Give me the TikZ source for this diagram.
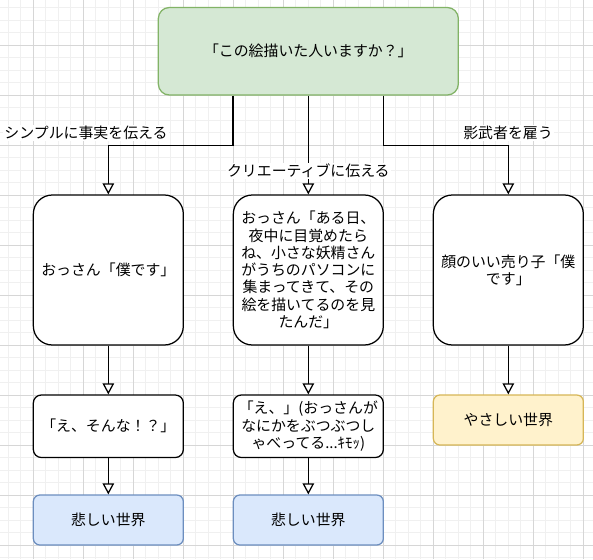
\documentclass[tikz,border=0pt]{standalone}
\usepackage{fontspec}
\setmainfont{Noto Sans CJK JP}
\usetikzlibrary{arrows.meta,calc}

\definecolor{gridminor}{RGB}{240,240,240}
\definecolor{gridmajor}{RGB}{214,214,214}
\definecolor{greenfill}{HTML}{D5E8D4}
\definecolor{greenline}{HTML}{82B366}
\definecolor{bluefill}{HTML}{DAE8FC}
\definecolor{blueline}{HTML}{6C8EBF}
\definecolor{yellowfill}{HTML}{FFF2CC}
\definecolor{yellowline}{HTML}{D6B656}

\newcommand{\boxfont}{\fontsize{14.9}{17.3}\selectfont}

\tikzset{every picture/.style={line width=1.25pt}}
\tikzset{
  box/.style={draw=black, fill=white, rounded corners=19pt, minimum width=150pt, minimum height=150pt, align=center, inner sep=2pt, font=\boxfont},
  midbox/.style={box, minimum height=62.5pt, rounded corners=8pt},
  endbox/.style={box, minimum height=50pt, rounded corners=6.5pt},
  conn/.style={draw=black, -{Triangle[width=11.5pt,length=11pt,fill=white]}},
  edgelabel/.style={fill=white, inner sep=1.5pt, font=\boxfont},
}

\begin{document}
\begin{tikzpicture}[x=1pt,y=1pt,yscale=-1,xscale=1]
\useasboundingbox (0,0) rectangle (593,559);
\fill[white] (0,0) rectangle (593,559);

%Grid
\foreach \i in {0,...,47} \draw[gridminor, line width=0.9pt] ({8.333+12.5*\i},0) -- ++(0,559);
\foreach \i in {0,...,44} \draw[gridminor, line width=0.9pt] (0,{7.5+12.5*\i}) -- ++(593,0);
\foreach \i in {0,...,11} \draw[gridmajor, line width=0.9pt] ({33.333+50*\i},0) -- ++(0,559);
\foreach \i in {0,...,10} \draw[gridmajor, line width=0.9pt] (0,{45+50*\i}) -- ++(593,0);

%Shape: question
\node[box, fill=greenfill, draw=greenline, minimum width=300pt, minimum height=87.5pt, rounded corners=11pt] (ask) at (308.33,51.25) {「この絵描いた人いますか？」};

%Shape: answers
\node[box] (simple) at (108.33,270) {おっさん「僕です」};
\node[box] (creative) at (308.33,270) {おっさん「ある日、\\夜中に目覚めたら\\ね、小さな妖精さん\\がうちのパソコンに\\集まってきて、その\\絵を描いてるのを見\\たんだ」};
\node[box] (ghost) at (508.33,270) {顔のいい売り子「僕\\です」};

%Shape: reactions
\node[midbox] (shock) at (108.33,426.25) {「え、そんな！？」};
\node[midbox] (mutter) at (308.33,426.25) {「え、」(おっさんが\\なにかをぶつぶつし\\ゃべってる...ｷﾓｯ)};

%Shape: worlds
\node[endbox, fill=bluefill, draw=blueline] (sadA) at (108.33,520) {悲しい世界};
\node[endbox, fill=bluefill, draw=blueline] (sadB) at (308.33,520) {悲しい世界};
\node[endbox, fill=yellowfill, draw=yellowline] (kind) at (508.33,420) {やさしい世界};

%Connectors
\coordinate (askL) at ($(ask.south west)!.25!(ask.south east)$);
\coordinate (askR) at ($(ask.south west)!.75!(ask.south east)$);
\draw[conn] (askL) -- ++(0,50) -| (simple.north);
\draw[conn] (ask.south) -- (creative.north);
\draw[conn] (askR) -- ++(0,50) -| (ghost.north);
\draw[conn] (simple.south) -- (shock.north);
\draw[conn] (creative.south) -- (mutter.north);
\draw[conn] (ghost.south) -- (kind.north);
\draw[conn] (shock.south) -- (sadA.north);
\draw[conn] (mutter.south) -- (sadB.north);

% Text Node
\node[edgelabel] (lblSimple) at (86,133) {シンプルに事実を伝える};
% Text Node
\node[edgelabel] (lblCreative) at (308.33,171) {クリエーティブに伝える};
% Text Node
\node[edgelabel] (lblGhost) at (508,133) {影武者を雇う};

\end{tikzpicture}
\end{document}
